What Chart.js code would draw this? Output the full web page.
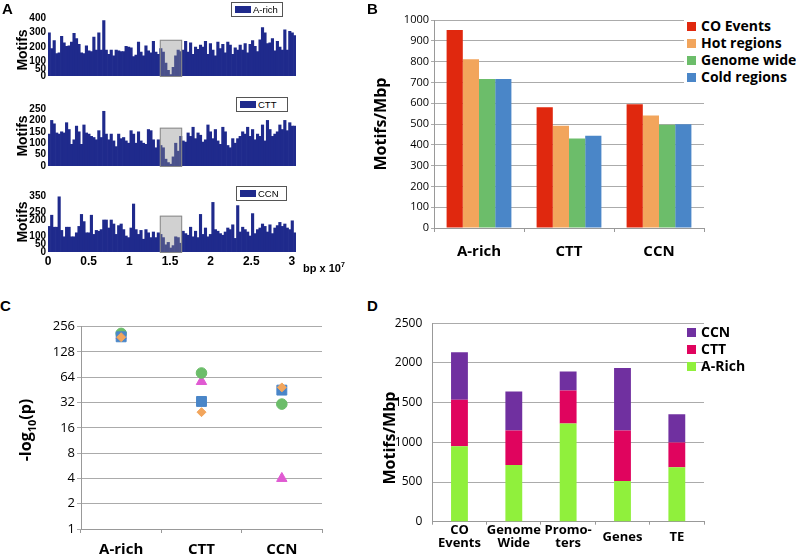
<!DOCTYPE html>
<html>
<head>
<meta charset="utf-8">
<script src="https://cdn.jsdelivr.net/npm/chart.js@4.4.1/dist/chart.umd.min.js"></script>
<style>
  html, body { margin: 0; padding: 0; background: #fff; }
  body { width: 796px; height: 557px; position: relative; overflow: hidden; font-family: "Open Sans", sans-serif; color: #000; }
  canvas { position: absolute; }
  .lbl { position: absolute; white-space: nowrap; line-height: 1; }
  .rot { transform: translate(-50%, -50%) rotate(-90deg); }
  .panel { font-family: "Liberation Sans", Arial, sans-serif; font-weight: bold; font-size: 15px; }
  .amotif { font-family: "Liberation Sans", Arial, sans-serif; font-weight: bold; font-size: 14px; }
  .abox { position: absolute; border: 1px solid #555; background: #fff; height: 13px;
          font-family: "Liberation Sans", Arial, sans-serif; font-size: 9.5px; line-height: 13px; }
  .abox span.sw { position: absolute; left: 3px; top: 3px; width: 16px; height: 7px; background: #1f2a8c; }
  .abox span.tx { position: absolute; left: 21px; top: 0; }
  .ytitle { font-weight: bold; font-size: 16px; }
  .leg { position: absolute; font-weight: bold; font-size: 14px; line-height: 16px; white-space: nowrap; }
</style>
</head>
<body>
<canvas id="histA" width="300" height="84" style="left:0px;top:0px"></canvas>
<canvas id="histC" width="300" height="84" style="left:0px;top:90px"></canvas>
<canvas id="histN" width="300" height="92" style="left:0px;top:180px"></canvas>
<canvas id="chartB" width="406" height="260" style="left:390px;top:10px"></canvas>
<canvas id="chartC" width="300" height="241" style="left:30px;top:316px"></canvas>
<canvas id="chartD" width="406" height="251" style="left:390px;top:306px"></canvas>

<div class="lbl panel" style="left:2px;top:1px">A</div>
<div class="lbl panel" style="left:367px;top:1px">B</div>
<div class="lbl panel" style="left:0px;top:298px">C</div>
<div class="lbl panel" style="left:367px;top:298px">D</div>

<div class="lbl amotif rot" style="left:22px;top:50px">Motifs</div>
<div class="lbl amotif rot" style="left:22px;top:136px">Motifs</div>
<div class="lbl amotif rot" style="left:22px;top:222px">Motifs</div>

<div class="abox" style="left:231px;top:2px;width:50px"><span class="sw"></span><span class="tx">A-rich</span></div>
<div class="abox" style="left:236px;top:97px;width:50px"><span class="sw"></span><span class="tx">CTT</span></div>
<div class="abox" style="left:236px;top:186px;width:49px"><span class="sw"></span><span class="tx">CCN</span></div>

<div class="lbl" style="left:303px;top:261px;font-family:'Liberation Sans',Arial,sans-serif;font-weight:bold;font-size:11px">bp x 10<sup style="font-size:7px">7</sup></div>

<div class="lbl ytitle rot" style="left:380px;top:124px">Motifs/Mbp</div>
<div class="lbl ytitle rot" style="left:27px;top:430px">-log<sub style="font-size:11px">10</sub>(p)</div>
<div class="lbl ytitle rot" style="left:389px;top:438px">Motifs/Mbp</div>

<div id="legB" style="position:absolute;left:684px;top:16px;width:112px;height:72px;background:#fff"></div>
<div id="legD" style="position:absolute;left:684px;top:322px;width:112px;height:54px"></div>

<script>
// ---- Panel A: motif counts per bin along the chromosome
const aRich = [
  300, 190, 245, 155, 160, 275, 230, 205, 210, 235, 295, 260, 220, 160, 155, 210, 175, 170, 270, 180,
  300, 180, 385, 180, 150, 180, 140, 180, 175, 170, 170, 205, 200, 195, 135, 145, 235, 165, 140, 210,
  175, 160, 240, 165, 150,
  190, 165, 90, 40, 10, 60, 140, 180, 170,
  180, 240, 165, 230, 150, 200, 185, 215, 200, 240, 150, 225, 180, 140, 235, 190, 220, 160, 235, 215,
  150, 195, 180, 215, 180, 225, 160, 220, 245, 205, 170, 250, 335, 300, 225, 230, 260, 175, 240, 200,
  180, 320, 180, 310, 300, 280
];
const ctt = [
  140, 200, 185, 145, 140, 150, 145, 190, 160, 95, 115, 175, 150, 95, 180, 145, 140, 130, 125, 115,
  155, 125, 240, 140, 115, 140, 110, 85, 140, 120, 125, 110, 100, 155, 140, 100, 150, 110, 100, 95,
  160, 155, 115, 80, 115,
  90, 80, 30, 15, 8, 40, 100, 65, 130,
  110, 105, 145, 130, 170, 120, 145, 135, 105, 115, 180, 150, 120, 160, 110, 95, 170, 150, 90, 80,
  120, 100, 120, 130, 150, 140, 170, 130, 160, 115, 140, 130, 180, 110, 200, 160, 130, 140, 150, 180,
  160, 200, 155, 190, 175, 175
];
const ccn = [
  160, 230, 155, 155, 345, 135, 95, 155, 155, 95, 95, 120, 160, 235, 190, 120, 120, 230, 110, 135,
  130, 140, 200, 200, 150, 200, 175, 110, 165, 175, 140, 100, 90, 150, 300, 140, 110, 135, 80, 140,
  120, 90, 125, 90, 120,
  110, 90, 45, 60, 25, 40, 95, 90, 55,
  130, 115, 105, 155, 95, 130, 90, 235, 110, 150, 95, 110, 310, 140, 130, 115, 105, 125, 150, 140,
  170, 85, 290, 125, 155, 140, 125, 100, 240, 115, 140, 150, 175, 160, 125, 170, 115, 150, 165, 185,
  160, 175, 150, 140, 195, 120
];
const binLabels = aRich.map((v, i) => i + 1);
const bpTicks = [0, 0.5, 1, 1.5, 2, 2.5, 3];
const chromEnd = 3.05;
const centromere = [1.375, 1.65];
const aRichTicks = [0, 50, 100, 200, 300, 400];
const cttTicks = [0, 50, 100, 150, 200, 250];
const ccnTicks = [0, 50, 100, 200, 250, 350];

// ---- Panel B: motif density by region
const motifNames = ['A-rich', 'CTT', 'CCN'];
const coEvents = [952, 581, 595];
const hotRegions = [811, 491, 541];
const genomeWide = [716, 430, 496];
const coldRegions = [716, 443, 499];

// ---- Panel C: -log10(p) of the enrichment tests
const pDiamonds = [192, 24.6, 48.5];
const pSquares = [194, 33, 45];
const pCircles = [213, 72, 30.7];
const pTriangles = [200, 57, 4];
const log2Ticks = [1, 2, 4, 8, 16, 32, 64, 128, 256];

// ---- Panel D: stacked motif density
const regionNames = [['CO', 'Events'], ['Genome', 'Wide'], ['Promo-', 'ters'], 'Genes', 'TE'];
const aRichDensity = [950, 715, 1236, 514, 685];
const cttDensity = [587, 435, 416, 636, 314];
const ccnDensity = [596, 490, 240, 787, 355];

const navy = '#1f2a8c';
const red = '#e0280e', orange = '#f2a55c', green = '#6cbd6a', blue = '#4a86c8';
const magenta = '#e05ad2';
const lime = '#90f03c', crimson = '#e0045e', purple = '#7030a0';
const gridGray = '#ababab', axisGray = '#999';
const plain = v => String(v);

Chart.defaults.font.family = 'Open Sans';
Chart.defaults.color = '#000';

// grey box over the centromere region
const shadePlugin = {
  id: 'shade',
  afterDatasetsDraw(chart, args, opts) {
    const ctx = chart.ctx;
    const xs = chart.scales.x2, ys = chart.scales.y;
    const x0 = xs.getPixelForValue(centromere[0]);
    const x1 = xs.getPixelForValue(centromere[1]);
    const y0 = ys.getPixelForValue(opts.top);
    const y1 = ys.getPixelForValue(0);
    ctx.save();
    ctx.fillStyle = 'rgba(140,140,140,0.4)';
    ctx.fillRect(x0, y0, x1 - x0, y1 - y0);
    ctx.strokeStyle = '#8a8a8a';
    ctx.lineWidth = 1;
    ctx.strokeRect(x0 + 0.5, y0 + 0.5, x1 - x0 - 1, y1 - y0);
    ctx.restore();
  }
};

function histogram(id, values, yMax, yTicks, shadeTop, padTop, showX) {
  new Chart(document.getElementById(id), {
    type: 'bar',
    data: {
      labels: binLabels,
      datasets: [{ data: values, xAxisID: 'x', backgroundColor: navy, borderWidth: 0,
                   categoryPercentage: 1, barPercentage: 1 }]
    },
    options: {
      responsive: false,
      animation: false,
      layout: { padding: { top: padTop, right: 4, bottom: showX ? 0 : 7.3, left: 0 } },
      plugins: { legend: { display: false }, tooltip: { enabled: false }, shade: { top: shadeTop } },
      scales: {
        x: { display: false },
        x2: {
          type: 'linear', position: 'bottom', min: 0, max: chromEnd, display: showX, offset: false,
          grid: { display: false, drawTicks: false, offset: false }, border: { display: false },
          afterBuildTicks: s => { s.ticks = bpTicks.map(v => ({ value: v })); },
          afterFit: s => { if (showX) s.height = 20; },
          ticks: { padding: 2, autoSkip: false, maxRotation: 0, callback: plain,
                   font: { family: 'Liberation Sans', size: 12, weight: 'bold' } }
        },
        y: {
          min: 0, max: yMax,
          grid: { display: false, drawTicks: false }, border: { display: false },
          afterBuildTicks: s => { s.ticks = yTicks.map(v => ({ value: v })); },
          afterFit: s => { s.width = 48; },
          ticks: { padding: 2, autoSkip: false, callback: plain,
                   font: { family: 'Liberation Sans', size: 10, weight: 'bold' } }
        }
      }
    },
    plugins: [shadePlugin]
  });
}

histogram('histA', aRich, 400, aRichTicks, 251, 18.3, false);
histogram('histC', ctt, 250, cttTicks, 168, 19, false);
histogram('histN', ccn, 350, ccnTicks, 227, 16, true);

// Panel B
const barB = { categoryPercentage: 0.72, barPercentage: 1, borderWidth: 0 };
new Chart(document.getElementById('chartB'), {
  type: 'bar',
  data: {
    labels: motifNames,
    datasets: [
      { label: 'CO Events', data: coEvents, backgroundColor: red, ...barB },
      { label: 'Hot regions', data: hotRegions, backgroundColor: orange, ...barB },
      { label: 'Genome wide', data: genomeWide, backgroundColor: green, ...barB },
      { label: 'Cold regions', data: coldRegions, backgroundColor: blue, ...barB }
    ]
  },
  options: {
    responsive: false,
    animation: false,
    layout: { padding: { top: 10, right: 92, bottom: 0, left: 0 } },
    plugins: { legend: { display: false }, tooltip: { enabled: false } },
    scales: {
      x: {
        grid: { offset: true, drawOnChartArea: false, tickLength: 4, color: axisGray },
        border: { color: axisGray },
        afterFit: s => { s.height = 42; },
        ticks: { padding: 11, font: { size: 15, weight: 'bold' } }
      },
      y: {
        min: 0, max: 1000,
        grid: { color: gridGray, tickLength: 3 },
        border: { color: axisGray },
        afterFit: s => { s.width = 44; },
        ticks: { stepSize: 100, padding: 2, callback: plain, font: { size: 11 } }
      }
    }
  }
});

// Panel C
const pt = (data, style, r, color) => ({
  data, pointStyle: style, pointRadius: r, showLine: false,
  pointBackgroundColor: color, pointBorderColor: color, pointBorderWidth: 1
});
new Chart(document.getElementById('chartC'), {
  type: 'line',
  data: {
    labels: motifNames,
    datasets: [
      pt(pDiamonds, 'rectRot', 4.5, orange),
      pt(pSquares, 'rect', 7, blue),
      pt(pCircles, 'circle', 5.3, green),
      pt(pTriangles, 'triangle', 6, magenta)
    ]
  },
  options: {
    responsive: false,
    animation: false,
    layout: { padding: { top: 10.7, right: 7.3, bottom: 0, left: 0 } },
    plugins: { legend: { display: false }, tooltip: { enabled: false } },
    scales: {
      x: {
        offset: true,
        grid: { offset: true, drawOnChartArea: false, tickLength: 4, color: axisGray },
        border: { color: axisGray },
        afterFit: s => { s.height = 28; },
        ticks: { padding: 8, font: { size: 15, weight: 'bold' } }
      },
      y: {
        type: 'logarithmic', min: 1, max: 256,
        grid: { color: gridGray, tickLength: 4 },
        border: { color: axisGray },
        afterBuildTicks: s => { s.ticks = log2Ticks.map(v => ({ value: v })); },
        afterFit: s => { s.width = 51; },
        ticks: { padding: 2, autoSkip: false, callback: plain, font: { size: 13 } }
      }
    }
  }
});

// Panel D
const barD = { categoryPercentage: 1, barPercentage: 0.31, borderWidth: 0 };
new Chart(document.getElementById('chartD'), {
  type: 'bar',
  data: {
    labels: regionNames,
    datasets: [
      { label: 'A-Rich', data: aRichDensity, backgroundColor: lime, ...barD },
      { label: 'CTT', data: cttDensity, backgroundColor: crimson, ...barD },
      { label: 'CCN', data: ccnDensity, backgroundColor: purple, ...barD }
    ]
  },
  options: {
    responsive: false,
    animation: false,
    layout: { padding: { top: 11.3, right: 92, bottom: 0, left: 0 } },
    plugins: { legend: { display: false }, tooltip: { enabled: false } },
    scales: {
      x: {
        stacked: true,
        grid: { offset: true, drawOnChartArea: false, tickLength: 3, color: axisGray },
        border: { color: axisGray },
        afterFit: s => { s.height = 35.3; },
        ticks: { padding: 6, crossAlign: 'center', autoSkip: false, maxRotation: 0,
                 font: { size: 13, weight: 'bold', lineHeight: 0.98 } }
      },
      y: {
        stacked: true, min: 0, max: 2500,
        grid: { color: gridGray, drawTicks: false },
        border: { color: axisGray },
        afterFit: s => { s.width = 42.3; },
        ticks: { stepSize: 500, padding: 10, callback: plain, font: { size: 12 } }
      }
    }
  }
});

// HTML legends for B and D
function legend(el, items, firstY, gap) {
  items.forEach((it, i) => {
    const cy = firstY + i * gap;
    const sw = document.createElement('i');
    sw.style.cssText = `position:absolute;width:9px;height:9px;left:3px;top:${cy - 4.5}px;background:${it[1]}`;
    const tx = document.createElement('div');
    tx.className = 'leg';
    tx.style.cssText = `left:17px;top:${cy - 8}px`;
    tx.textContent = it[0];
    el.appendChild(sw);
    el.appendChild(tx);
  });
}
legend(document.getElementById('legB'),
  [['CO Events', red], ['Hot regions', orange], ['Genome wide', green], ['Cold regions', blue]], 10, 17);
legend(document.getElementById('legD'),
  [['CCN', purple], ['CTT', crimson], ['A-Rich', lime]], 10, 17.2);
</script>
</body>
</html>
